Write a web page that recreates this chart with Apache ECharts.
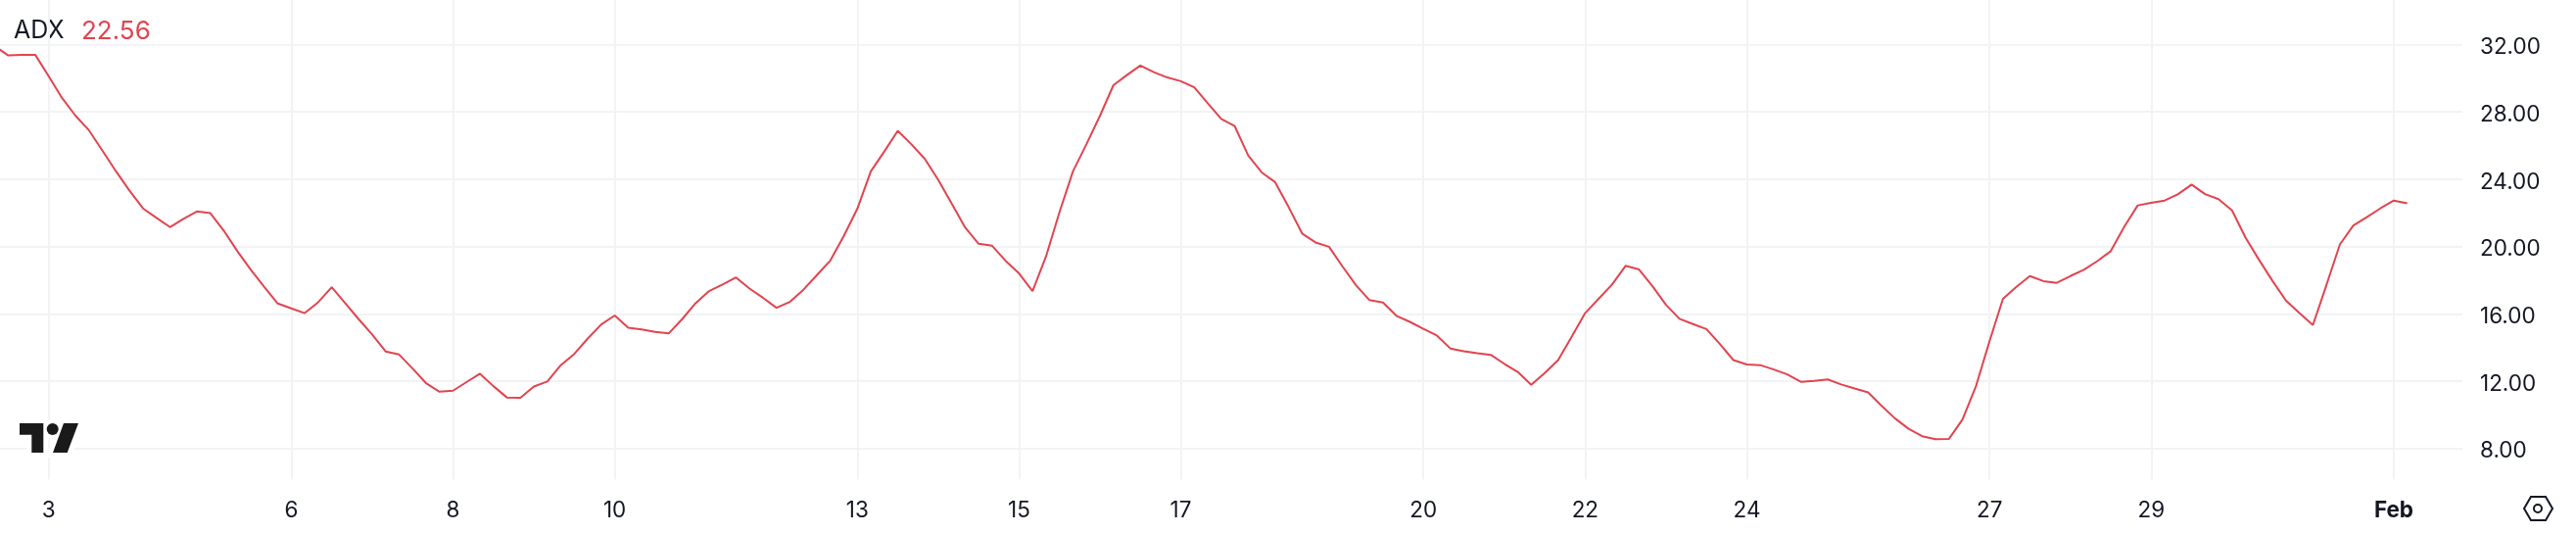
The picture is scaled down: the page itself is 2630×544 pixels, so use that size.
<!DOCTYPE html>
<html>
<head>
<meta charset="utf-8">
<style>
html, body { margin: 0; padding: 0; background: #fff; }
#chart { width: 2630px; height: 544px; }
</style>
<script src="https://cdn.jsdelivr.net/npm/echarts@6/dist/echarts.min.js"></script>
</head>
<body>
<div id="chart"></div>
<script>
// 4h bars, bar 0 sits on the "3" tick
var firstBar = -4;
var adxValues = [
    31.90, 31.35, 31.39, 31.39, 30.12, 28.81, 27.76, 26.89, 25.68, 24.46,
    23.31, 22.26, 21.70, 21.15, 21.64, 22.08, 21.98, 20.93, 19.72, 18.61,
    17.60, 16.61, 16.32, 16.04, 16.69, 17.58, 16.63, 15.68, 14.77, 13.76,
    13.58, 12.75, 11.88, 11.37, 11.43, 11.94, 12.44, 11.70, 11.03, 11.01,
    11.68, 11.98, 12.95, 13.62, 14.53, 15.37, 15.90, 15.17, 15.07, 14.93,
    14.83, 15.68, 16.63, 17.35, 17.74, 18.16, 17.50, 16.95, 16.36, 16.71,
    17.43, 18.30, 19.17, 20.63, 22.24, 24.46, 25.64, 26.87, 26.08, 25.21,
    23.96, 22.55, 21.13, 20.16, 20.04, 19.15, 18.40, 17.35, 19.41, 22.04,
    24.46, 26.08, 27.76, 29.58, 30.18, 30.75, 30.36, 30.04, 29.82, 29.45,
    28.51, 27.58, 27.15, 25.41, 24.40, 23.82, 22.34, 20.77, 20.24, 19.98,
    18.81, 17.70, 16.81, 16.67, 15.88, 15.52, 15.11, 14.71, 13.94, 13.78,
    13.66, 13.56, 13.03, 12.55, 11.78, 12.48, 13.25, 14.63, 16.04, 16.89,
    17.74, 18.85, 18.63, 17.64, 16.53, 15.70, 15.39, 15.09, 14.20, 13.25,
    12.99, 12.95, 12.69, 12.40, 11.96, 12.02, 12.10, 11.80, 11.56, 11.33,
    10.53, 9.78, 9.17, 8.73, 8.55, 8.57, 9.72, 11.70, 14.36, 16.89,
    17.60, 18.24, 17.94, 17.84, 18.24, 18.61, 19.13, 19.72, 21.17, 22.44,
    22.59, 22.73, 23.11, 23.68, 23.11, 22.81, 22.14, 20.53, 19.21, 17.96,
    16.79, 16.04, 15.33, 17.70, 20.12, 21.25, 21.74, 22.26, 22.73, 22.56
];
var dayBars = [0, 18, 30, 42, 60, 72, 84, 102, 114, 126, 144, 156, 174];
var dayLabels = ['3', '6', '8', '10', '13', '15', '17', '20', '22', '24', '27', '29', 'Feb'];
var yTicks = [8, 12, 16, 20, 24, 28, 32];

var textColor = '#131722';
var lineColor = '#e2444f';
var gridColor = '#f2f3f4';
var fontName = 'Inter';

var myChart = echarts.init(document.getElementById('chart'));

var lineData = adxValues.map(function (v, i) {
    return [firstBar + i, v];
});

// hexagon settings icon, bottom right corner
var hexPoints = [[2577, 519], [2584, 507], [2599, 507], [2606, 519], [2599, 531], [2584, 531]];
// logo pieces
var logoBar = [[20, 432], [44.3, 432], [44.3, 462], [32.3, 462], [32.3, 443.7], [20, 443.7]];
var logoSlash = [[65, 432], [80, 432], [68.7, 462], [54, 462]];

var option = {
    animation: false,
    backgroundColor: '#fff',
    grid: { left: 0, right: 116, top: 0, height: 489.3 },
    xAxis: {
        type: 'value',
        min: -3.612,
        max: 179.09,
        axisLine: { show: false },
        axisTick: { show: false, customValues: dayBars },
        splitLine: { show: true, lineStyle: { color: gridColor, width: 2 } },
        axisLabel: {
            customValues: dayBars,
            margin: 20,
            fontFamily: fontName,
            fontSize: 22.5,
            color: textColor,
            formatter: function (v) {
                var s = dayLabels[dayBars.indexOf(v)];
                return s === 'Feb' ? '{b|Feb}' : s;
            },
            rich: { b: { fontFamily: fontName, fontSize: 22.5, fontWeight: 'bold', color: textColor } }
        }
    },
    yAxis: {
        type: 'value',
        position: 'right',
        min: 6.16,
        max: 34.643,
        axisLine: { show: false },
        axisTick: { show: false, customValues: yTicks },
        splitLine: { show: true, lineStyle: { color: gridColor, width: 2 } },
        axisLabel: {
            customValues: yTicks,
            margin: 18,
            verticalAlign: 'top',
            lineHeight: 6,
            fontFamily: fontName,
            fontSize: 22.5,
            color: textColor,
            formatter: function (v) { return v.toFixed(2); }
        }
    },
    series: [
        {
            name: 'ADX',
            type: 'line',
            data: lineData,
            showSymbol: false,
            smooth: false,
            lineStyle: { color: lineColor, width: 2 },
            clip: true
        }
    ],
    graphic: [
        { type: 'text', left: 14, top: 19, style: { text: 'ADX', fontFamily: fontName, fontSize: 25, fill: textColor } },
        { type: 'text', left: 83, top: 19, style: { text: adxValues[adxValues.length - 1].toFixed(2), fontFamily: fontName, fontSize: 26, fill: lineColor } },
        // white halo behind the logo
        { type: 'polygon', z: 10, shape: { points: logoBar }, style: { fill: '#fff', stroke: '#fff', lineWidth: 10 } },
        { type: 'polygon', z: 10, shape: { points: logoSlash }, style: { fill: '#fff', stroke: '#fff', lineWidth: 10 } },
        { type: 'circle', z: 10, shape: { cx: 53.7, cy: 438, r: 10 }, style: { fill: '#fff' } },
        { type: 'polygon', z: 11, shape: { points: logoBar }, style: { fill: '#1a1a1a' } },
        { type: 'polygon', z: 11, shape: { points: logoSlash }, style: { fill: '#1a1a1a' } },
        { type: 'circle', z: 11, shape: { cx: 53.7, cy: 438, r: 6 }, style: { fill: '#1a1a1a' } },
        { type: 'polygon', z: 11, shape: { points: hexPoints }, style: { fill: 'none', stroke: textColor, lineWidth: 2 } },
        { type: 'circle', z: 11, shape: { cx: 2591, cy: 519, r: 4 }, style: { fill: 'none', stroke: textColor, lineWidth: 2 } }
    ]
};

myChart.setOption(option);
</script>
</body>
</html>
